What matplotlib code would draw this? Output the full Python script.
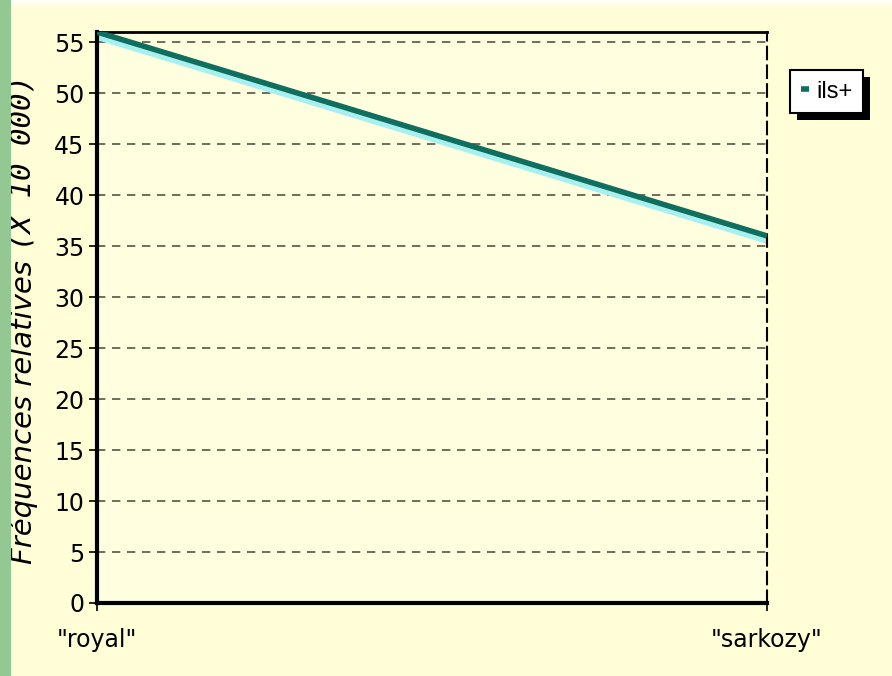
import matplotlib
matplotlib.use('Agg')
import matplotlib.pyplot as plt
from matplotlib.patches import Rectangle

# data
categories = ['"royal"', '"sarkozy"']
ils_plus = [56, 36]
y_ticks = [0, 5, 10, 15, 20, 25, 30, 35, 40, 45, 50, 55]

plt.rcParams['font.family'] = ['DejaVu Sans']

W, H = 892, 676
fig = plt.figure(figsize=(W / 100, H / 100), dpi=100)
fig.patch.set_facecolor('#fffed6')

# green strip on the left and white strip on top
fig.add_artist(Rectangle((0, 0), 11 / W, 1, transform=fig.transFigure,
                         facecolor='#93c893', edgecolor='none', zorder=10))
fig.add_artist(Rectangle((11 / W, 1 - 5 / H), 1, 5 / H, transform=fig.transFigure,
                         facecolor='#fffff4', edgecolor='none', zorder=-1))

left, right, top, bottom = 97, 767, 32, 603
ax = fig.add_axes([left / W, 1 - bottom / H, (right - left) / W, (bottom - top) / H])
ax.set_facecolor('#ffffe0')

x = list(range(len(categories)))
# light cyan shadow under the line
ax.plot(x, [v - 0.5 for v in ils_plus], color='#a8f0f0', lw=4, zorder=2,
        solid_capstyle='butt')
line, = ax.plot(x, ils_plus, color='#0f6e5e', lw=4, zorder=3, label='ils+',
                solid_capstyle='butt')

ax.set_xlim(0, 1)
ax.set_ylim(0, 56)
ax.set_yticks(y_ticks)
ax.set_xticks(x)
ax.set_xticklabels(categories)
ax.tick_params(axis='both', labelsize=17, direction='out', length=6, width=1.2,
               color='black', pad=3)
ax.tick_params(axis='x', pad=12)

ax.grid(axis='y', color='#555544', linestyle=(0, (5, 4)), lw=1.2)
ax.set_axisbelow(True)

ax.spines['left'].set_linewidth(3)
ax.spines['bottom'].set_linewidth(3)
ax.spines['top'].set_linewidth(2)
ax.spines['right'].set_linewidth(1.5)
ax.spines['right'].set_linestyle((0, (6, 3)))

# y label: sans italic part and monospace part
fig.text(23 / W, 1 - 564 / H, 'Fréquences relatives', rotation=90, fontsize=21,
         style='italic', ha='left', va='center', rotation_mode='anchor', zorder=3)
fig.text(23 / W, 1 - 250 / H, '(X 10 000)', rotation=90, fontsize=21,
         style='italic', family='DejaVu Sans Mono', ha='left', va='center',
         rotation_mode='anchor', zorder=3)

leg = fig.legend(handles=[line], loc='upper left',
                 bbox_to_anchor=(790 / W, 1 - 70 / H),
                 bbox_transform=fig.transFigure, frameon=True, framealpha=1,
                 prop={'family': 'Liberation Sans', 'size': 17},
                 fancybox=False, edgecolor='black', handlelength=0.35,
                 handletextpad=0.3, borderpad=0.45, borderaxespad=0)
leg.get_frame().set_linewidth(1.5)
leg.get_frame().set_facecolor('white')
leg.set_zorder(5)

# black drop shadow behind the legend box
fig.canvas.draw()
bb = leg.get_window_extent()
off = 7
fig.add_artist(Rectangle(((bb.x0 + off) / W, (bb.y0 - off) / H), bb.width / W, bb.height / H,
                         transform=fig.transFigure, facecolor='black',
                         edgecolor='none', zorder=4))

fig.savefig('out.png', dpi=100, facecolor=fig.get_facecolor())
